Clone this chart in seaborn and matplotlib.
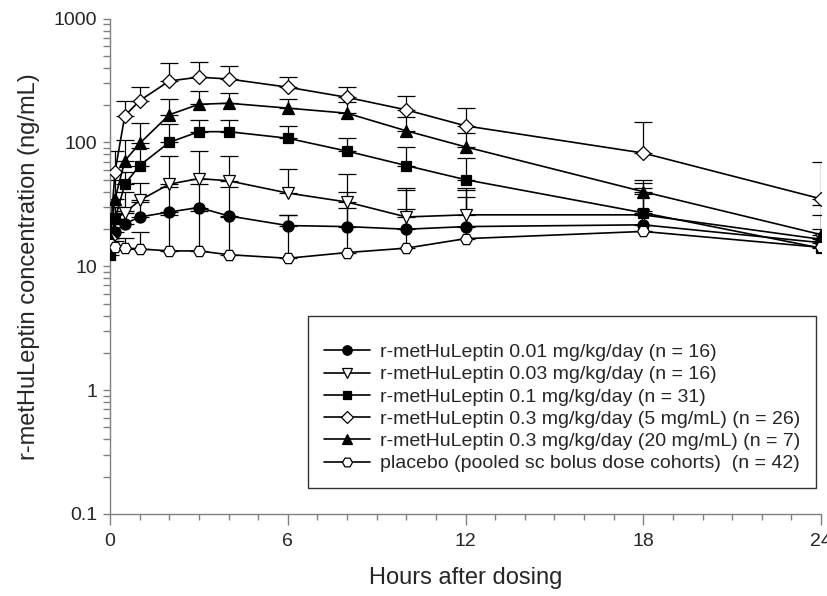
import numpy as np
import pandas as pd
import matplotlib
matplotlib.use("Agg")
import matplotlib.pyplot as plt
import seaborn as sns
from matplotlib.ticker import FixedLocator, FixedFormatter, LogLocator, NullFormatter, MultipleLocator

sns.set_theme(style="white")
plt.rcParams['font.family'] = ['Liberation Sans', 'DejaVu Sans']

# ---- data ----
hours = [0, 0.17, 0.5, 1, 2, 3, 4, 6, 8, 10, 12, 18, 24]

labels = [
    "r-metHuLeptin 0.01 mg/kg/day (n = 16)",
    "r-metHuLeptin 0.03 mg/kg/day (n = 16)",
    "r-metHuLeptin 0.1 mg/kg/day (n = 31)",
    "r-metHuLeptin 0.3 mg/kg/day (5 mg/mL) (n = 26)",
    "r-metHuLeptin 0.3 mg/kg/day (20 mg/mL) (n = 7)",
    "placebo (pooled sc bolus dose cohorts)  (n = 42)",
]

dose_001 = [15, 19, 22, 25, 27.4, 29.8, 25.5, 21.3, 20.9, 19.9, 20.9, 21.6, 15.5]
dose_003 = [16, 24, 27, 34, 46, 51, 49, 39, 33, 25, 26, 26, 16.5]
dose_01 = [12.4, 24, 46, 65, 100, 122, 122, 108, 85, 65, 50, 27, 14]
dose_03_5 = [17, 58, 164, 217, 313, 336, 325, 279, 231, 183, 136, 82, 35]
dose_03_20 = [17, 35, 71, 98, 167, 203, 207, 189, 172, 124, 92, 40, 18]
placebo = [15, 14.2, 14.0, 13.8, 13.3, 13.3, 12.4, 11.6, 12.9, 14.0, 16.7, 19.1, 14.2]

# upper end of the (+SD) error bars
hi_001 = [17, 24, 28, 33, 44, 46, 44, 26, 40, 41, 41, 43, 17]
hi_003 = [18, 30, 40, 47, 77, 85, 77, 61, 56, 43, 43, 47, 20]
hi_01 = [14, 30, 58, 90, 140, 152, 152, 136, 109, 91, 75, 38, 16]
hi_03_5 = [20, 85, 217, 282, 441, 446, 417, 337, 282, 238, 189, 146, 69]
hi_03_20 = [20, 50, 105, 143, 223, 262, 252, 223, 210, 160, 120, 50, 31]
hi_placebo = [17, 16, 17, 19, 26, 28, 25, 25.7, 29.5, 29, 36, 28, 25.7]

means = [dose_001, dose_003, dose_01, dose_03_5, dose_03_20, placebo]
highs = [hi_001, hi_003, hi_01, hi_03_5, hi_03_20, hi_placebo]

# styles
markers = ['o', 'v', 's', 'D', '^', 'H']
faces = ['black', 'white', 'black', 'white', 'black', 'white']
msizes = [8, 9, 7.3, 7.2, 9, 8.5]

fig = plt.figure(figsize=(8.28, 5.96), dpi=100)
ax = fig.add_axes([110 / 828, 82 / 596, 711 / 828, (514 - 18.5) / 596])

for lab, m, h, mk, fc, ms in zip(labels, means, highs, markers, faces, msizes):
    m = np.array(m, dtype=float)
    h = np.array(h, dtype=float)
    ax.errorbar(hours, m, yerr=[np.zeros_like(m), h - m], fmt='none',
                ecolor='black', elinewidth=0.9, capsize=6.5, capthick=0.9, zorder=1)
    df = pd.DataFrame({'hours': hours, 'conc': m})
    sns.lineplot(data=df, x='hours', y='conc', ax=ax, color='black', lw=1.2,
                 marker=mk, markersize=ms, markerfacecolor=fc,
                 markeredgecolor='black', markeredgewidth=0.9,
                 label=lab, errorbar=None, zorder=3)

ax.set_yscale('log')
ax.set_ylim(0.1, 1000)
ax.set_xlim(0, 24)
ax.yaxis.set_major_locator(FixedLocator([0.1, 1, 10, 100, 1000]))
ax.yaxis.set_major_formatter(FixedFormatter(['0.1', '1', '10', '100', '1000']))
ax.yaxis.set_minor_locator(LogLocator(base=10, subs=np.arange(2, 10)))
ax.yaxis.set_minor_formatter(NullFormatter())
ax.xaxis.set_major_locator(FixedLocator([0, 6, 12, 18, 24]))
ax.xaxis.set_minor_locator(MultipleLocator(1))

for s in ['top', 'right']:
    ax.spines[s].set_visible(False)
for s in ['left', 'bottom']:
    ax.spines[s].set_color('#808080')
    ax.spines[s].set_linewidth(1.0)

ax.tick_params(axis='y', which='both', direction='out', length=5, width=1,
               color='#808080', labelsize=14, pad=4, left=True)
ax.tick_params(axis='x', which='major', direction='out', length=8, width=1,
               color='#808080', labelsize=14, pad=6, bottom=True)
ax.tick_params(axis='x', which='minor', direction='out', length=4.5, width=1,
               color='#808080', bottom=True)

ax.set_xlabel('Hours after dosing', fontsize=17, labelpad=12)
ax.set_ylabel('r-metHuLeptin concentration (ng/mL)', fontsize=17, labelpad=10)
ax.grid(False)

leg = ax.legend(loc='lower right', bbox_to_anchor=(816 / 828, 108 / 596),
                bbox_transform=fig.transFigure, borderaxespad=0,
                fontsize=14, frameon=True, fancybox=False, shadow=False,
                handlelength=2.4, handletextpad=0.5, labelspacing=0.24,
                borderpad=0.8, markerscale=0.85,
                title=' ', title_fontsize=6)
leg.get_frame().set_edgecolor('black')
leg.get_frame().set_linewidth(1.0)

fig.savefig('out.png', dpi=100)
